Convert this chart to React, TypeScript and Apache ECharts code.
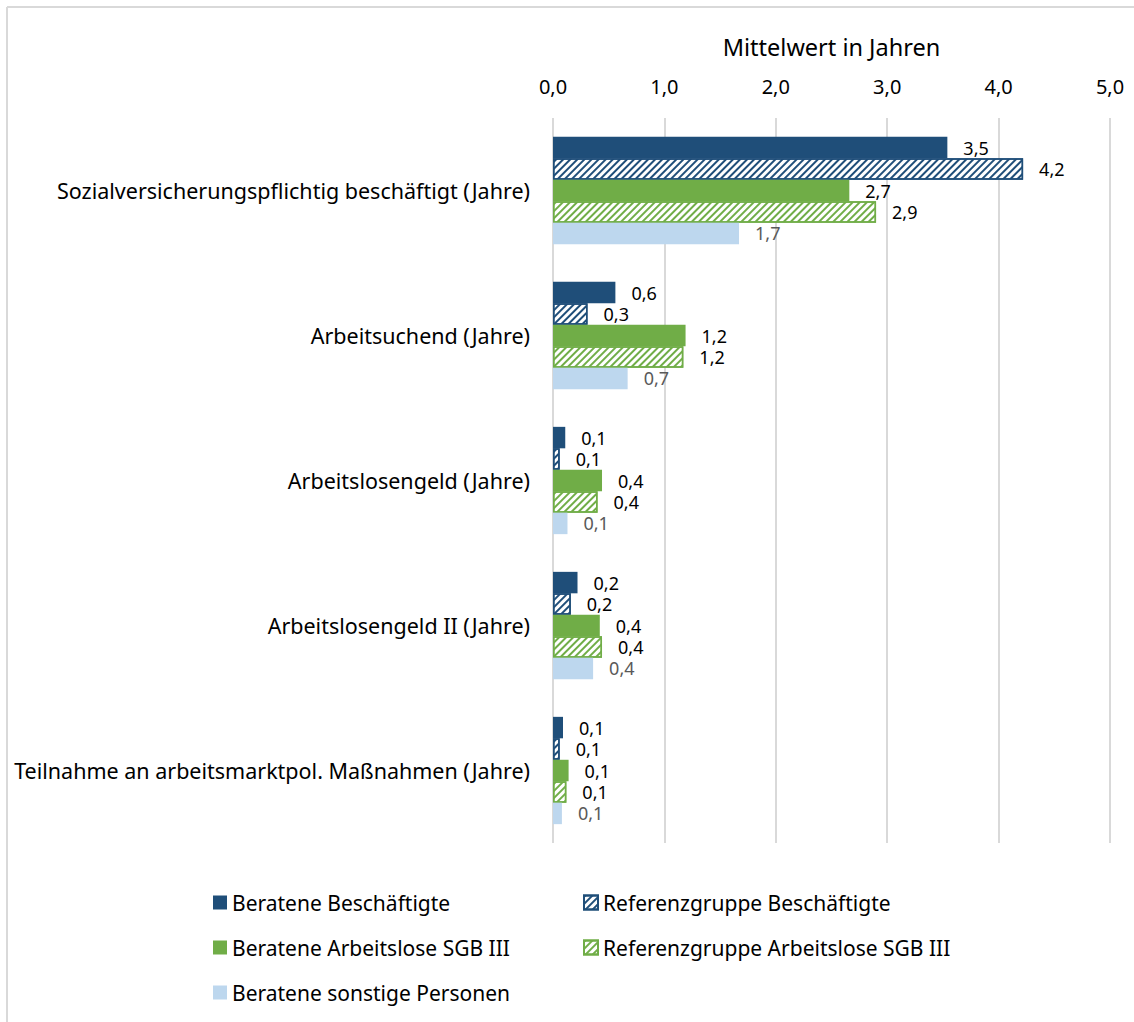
import React, { useEffect, useRef } from "react";
import * as echarts from "echarts";

const categories = [
  "Sozialversicherungspflichtig beschäftigt (Jahre)",
  "Arbeitsuchend (Jahre)",
  "Arbeitslosengeld (Jahre)",
  "Arbeitslosengeld II (Jahre)",
  "Teilnahme an arbeitsmarktpol. Maßnahmen (Jahre)",
];

const seriesNames = [
  "Beratene Beschäftigte",
  "Referenzgruppe Beschäftigte",
  "Beratene Arbeitslose SGB III",
  "Referenzgruppe Arbeitslose SGB III",
  "Beratene sonstige Personen",
];

const beratBesch = [3.54, 0.56, 0.11, 0.22, 0.09];
const refBesch = [4.22, 0.31, 0.06, 0.16, 0.06];
const beratAL = [2.66, 1.19, 0.44, 0.42, 0.14];
const refAL = [2.9, 1.17, 0.4, 0.44, 0.12];
const beratSonst = [1.67, 0.67, 0.13, 0.36, 0.08];

const xTicks = { min: 0, max: 5, interval: 1 };

const FONT = "Noto Sans";
const DARK = "#1F4E79";
const GREEN = "#70AD47";
const LIGHT = "#BDD7EE";

const fmt = (v: number) => v.toFixed(1).replace(".", ",");

export default function App() {
  const ref = useRef<HTMLDivElement>(null);
  useEffect(() => {
    if (!ref.current) return;
    const chart = echarts.init(ref.current, undefined, { renderer: "svg" });
    const label = (color: string) => ({
      show: true,
      position: "right" as const,
      distance: 16,
      fontFamily: FONT,
      fontSize: 18,
      lineHeight: 16,
      color,
      formatter: (p: any) => fmt(p.value),
    });
    const decal = (color: string) => ({
      symbol: "rect",
      symbolSize: 1,
      dashArrayX: [1, 0],
      dashArrayY: [2, 3],
      rotation: -Math.PI / 4,
      color,
    });
    const legendText = { fontFamily: FONT, fontSize: 21, color: "#000" };
    chart.setOption({
      animation: false,
      textStyle: { fontFamily: FONT },
      graphic: [
        { type: "line", shape: { x1: 7, y1: 7, x2: 1134, y2: 7 }, style: { stroke: "#d9d9d9", lineWidth: 2 } },
        { type: "line", shape: { x1: 7, y1: 7, x2: 7, y2: 1022 }, style: { stroke: "#d9d9d9", lineWidth: 2 } },
      ],
      grid: { left: 553, right: 24, top: 118, bottom: 179, containLabel: false },
      xAxis: {
        type: "value",
        position: "top",
        min: xTicks.min,
        max: xTicks.max,
        interval: xTicks.interval,
        name: "Mittelwert in Jahren",
        nameLocation: "middle",
        nameGap: 59,
        nameTextStyle: { fontFamily: FONT, fontSize: 23.5, color: "#000" },
        axisLine: { show: false },
        axisTick: { show: false },
        axisLabel: { fontFamily: FONT, fontSize: 20, color: "#000", margin: 22, formatter: (v: number) => fmt(v) },
        splitLine: { show: true, lineStyle: { color: "#d9d9d9", width: 2 } },
      },
      yAxis: {
        type: "category",
        inverse: true,
        data: categories,
        axisLine: { show: false },
        axisTick: { show: false },
        axisLabel: { fontFamily: FONT, fontSize: 21.5, color: "#000", margin: 23 },
      },
      legend: [
        {
          data: [seriesNames[0], seriesNames[2], seriesNames[4]],
          orient: "vertical",
          left: 208,
          top: 887,
          icon: "rect",
          itemWidth: 14,
          itemHeight: 14,
          itemGap: 24,
          textStyle: legendText,
        },
        {
          data: [seriesNames[1], seriesNames[3]],
          orient: "vertical",
          left: 578,
          top: 887,
          icon: "rect",
          itemWidth: 14,
          itemHeight: 14,
          itemGap: 24,
          textStyle: legendText,
        },
      ],
      series: [
        {
          name: seriesNames[0],
          type: "bar",
          data: beratBesch,
          barGap: "0%",
          barCategoryGap: "26%",
          itemStyle: { color: DARK },
          label: label("#000"),
        },
        {
          name: seriesNames[1],
          type: "bar",
          data: refBesch,
          itemStyle: { color: "#fff", borderColor: DARK, borderWidth: 1.5, decal: decal(DARK) },
          label: label("#000"),
        },
        {
          name: seriesNames[2],
          type: "bar",
          data: beratAL,
          itemStyle: { color: GREEN },
          label: label("#000"),
        },
        {
          name: seriesNames[3],
          type: "bar",
          data: refAL,
          itemStyle: { color: "#fff", borderColor: GREEN, borderWidth: 1.5, decal: decal(GREEN) },
          label: label("#000"),
        },
        {
          name: seriesNames[4],
          type: "bar",
          data: beratSonst,
          itemStyle: { color: LIGHT },
          label: label("#595959"),
        },
      ],
    });
    return () => chart.dispose();
  }, []);
  return (
    <div
      ref={ref}
      style={{ position: "absolute", left: 0, top: 0, width: 1134, height: 1022, background: "#fff" }}
    />
  );
}
